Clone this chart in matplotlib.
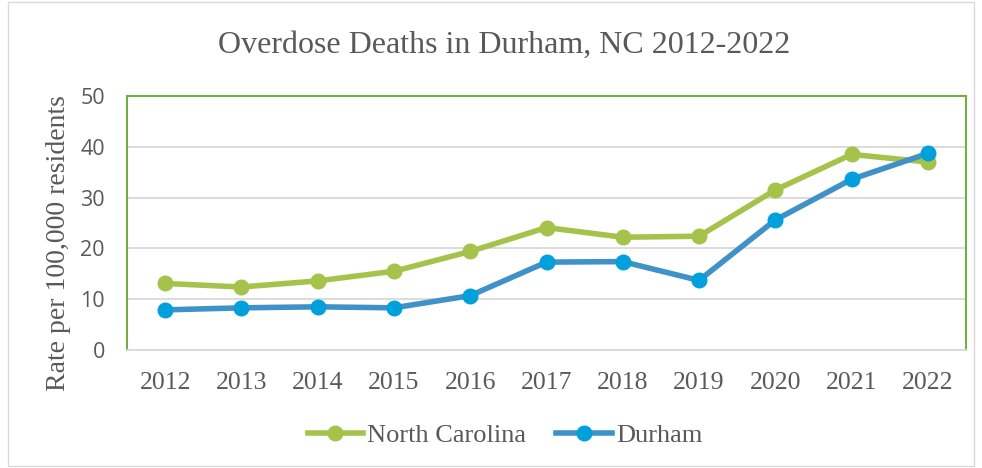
import matplotlib
matplotlib.use("agg")
import matplotlib.pyplot as plt
from matplotlib.patches import Rectangle

# ---------------------------------------------------------------------------
# Data
# ---------------------------------------------------------------------------
years = ["2012", "2013", "2014", "2015", "2016", "2017",
         "2018", "2019", "2020", "2021", "2022"]
north_carolina = [13.1, 12.4, 13.6, 15.5, 19.4, 24.1, 22.2, 22.4, 31.5, 38.5, 37.0]
durham = [7.9, 8.3, 8.5, 8.3, 10.7, 17.3, 17.4, 13.7, 25.6, 33.6, 38.7]
y_ticks = [0, 10, 20, 30, 40, 50]

GREEN = "#A5C34A"
BLUE_LINE = "#3F92C8"
BLUE_MARK = "#00A0DC"
TEXT = "#595959"
SERIF = "Liberation Serif"
SANS = "Open Sans"

W, H = 982, 468
fig = plt.figure(figsize=(W / 100, H / 100), dpi=100)

# outer chart border
fig.patches.append(Rectangle((8 / W, 2 / H), (W - 16) / W, (H - 4) / H,
                             transform=fig.transFigure, fill=False,
                             edgecolor="#D9D9D9", linewidth=1.0))

left, right, top, bottom = 127, 966, 96, 350
ax = fig.add_axes([left / W, 1 - bottom / H, (right - left) / W, (bottom - top) / H])

x = list(range(len(years)))
ax.plot(x, north_carolina, color=GREEN, linewidth=4.0, marker="o",
        markersize=10.5, markerfacecolor=GREEN, markeredgecolor=GREEN,
        label="North Carolina", zorder=3)
ax.plot(x, durham, color=BLUE_LINE, linewidth=4.0, marker="o",
        markersize=10.5, markerfacecolor=BLUE_MARK, markeredgecolor=BLUE_MARK,
        label="Durham", zorder=4)

ax.set_xlim(-0.5, len(years) - 0.5)
ax.set_ylim(0, 50)
ax.set_xticks(x)
ax.set_xticklabels(years, family=SERIF, fontsize=18.5, color=TEXT)
ax.set_yticks(y_ticks)
ax.set_yticklabels([str(v) for v in y_ticks], family=SANS, fontsize=15.5, color=TEXT)
ax.tick_params(axis="both", length=0)
ax.tick_params(axis="x", pad=16)
ax.tick_params(axis="y", pad=16)

ax.grid(axis="y", color="#D9D9D9", linewidth=1.3)
ax.set_axisbelow(True)
for side in ["left", "top", "right"]:
    ax.spines[side].set_color("#77AC41")
    ax.spines[side].set_linewidth(1.5)
ax.spines["bottom"].set_color("#D9D9D9")
ax.spines["bottom"].set_linewidth(1.3)

fig.text(59 / W, 1 - 243 / H, "Rate per 100,000 residents", family=SERIF,
         fontsize=20, color=TEXT, rotation=90, ha="center", va="center")

fig.text(504 / W, 1 - 45 / H, "Overdose Deaths in Durham, NC 2012-2022",
         family=SERIF, fontsize=23, color=TEXT, ha="center", va="center")

leg = fig.legend(loc="center", bbox_to_anchor=(505 / W, 1 - 435 / H), ncol=2,
                 frameon=False, prop={"family": SERIF, "size": 19},
                 handlelength=2.1, handletextpad=0.15, columnspacing=1.15,
                 borderpad=0.0)
for t in leg.get_texts():
    t.set_color(TEXT)

fig.savefig("out.png", dpi=100)
plt.close(fig)
